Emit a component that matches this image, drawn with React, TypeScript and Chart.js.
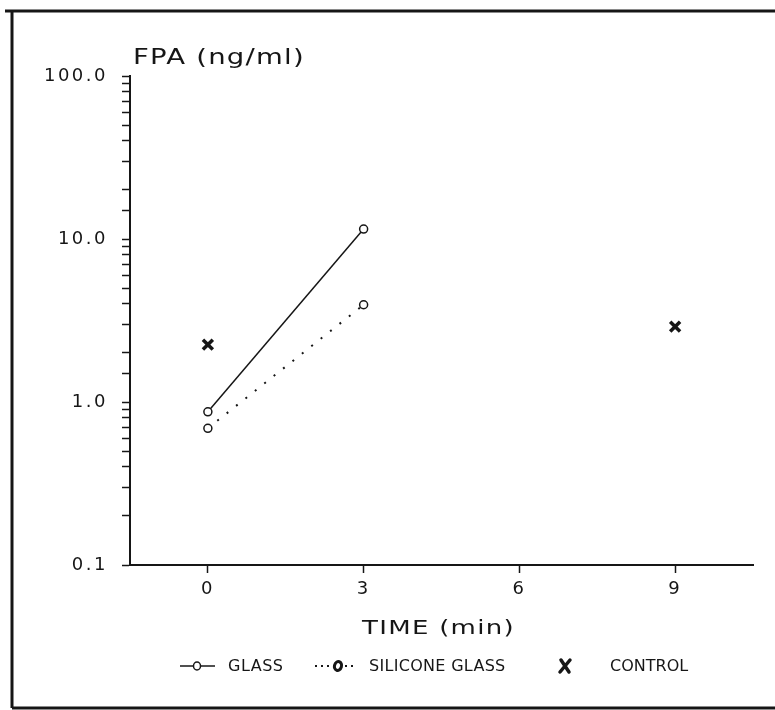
import React, { useEffect, useRef } from 'react';
import { Chart, registerables } from 'chart.js';

Chart.register(...registerables);

// ---- data ----
const timeTicks = [0, 3, 6, 9];
const glassTime = [0, 3];
const glassFPA = [0.87, 11.5];
const siliconeTime = [0, 3];
const siliconeFPA = [0.69, 3.95];
const controlTime = [0, 9];
const controlFPA = [2.25, 2.9];
const yMajorValues = [0.1, 1, 10, 100];
const yMajorLabels = ['0.1', '1.0', '10.0', '100.0'];
const seriesLabels = ['GLASS', 'SILICONE GLASS', 'CONTROL'];
const yTitle = 'FPA (ng/ml)';
const xTitle = 'TIME (min)';

const FONT = '"DejaVu Sans", sans-serif';
const INK = '#161616';

const toPoints = (xs: number[], ys: number[]) => xs.map((x, i) => ({ x, y: ys[i] }));

function drawStretched(
  ctx: CanvasRenderingContext2D,
  text: string,
  x: number,
  y: number,
  align: CanvasTextAlign,
  sx: number,
  spacing: string,
  font: string
) {
  ctx.save();
  ctx.translate(x, y);
  ctx.scale(sx, 1);
  ctx.font = font;
  (ctx as any).letterSpacing = spacing;
  ctx.textAlign = align;
  ctx.textBaseline = 'middle';
  ctx.fillStyle = INK;
  ctx.fillText(text, 0, 0);
  ctx.restore();
}

const decorPlugin = {
  id: 'decor',
  beforeDraw(chart: any) {
    (chart.ctx as any).letterSpacing = '2.5px';
  },
  afterDraw(chart: any) {
    const ctx = chart.ctx as CanvasRenderingContext2D;
    const area = chart.chartArea;
    ctx.save();
    // frame
    ctx.strokeStyle = INK;
    ctx.lineWidth = 3;
    ctx.beginPath();
    ctx.moveTo(5, 11);
    ctx.lineTo(775, 11);
    ctx.moveTo(12, 11);
    ctx.lineTo(12, 708);
    ctx.moveTo(12, 708);
    ctx.lineTo(775, 708);
    ctx.stroke();

    // titles
    drawStretched(ctx, yTitle, area.left + 3, 58, 'left', 1.25, '1px', `22px ${FONT}`);
    drawStretched(ctx, xTitle, (area.left + area.right) / 2 - 3, 629, 'center', 1.3, '1px', `20px ${FONT}`);

    // legend
    const ly = 666;
    const ds = chart.data.datasets;
    const lf = `16px ${FONT}`;
    // glass
    ctx.setLineDash([]);
    ctx.strokeStyle = ds[0].borderColor;
    ctx.lineWidth = 1.5;
    ctx.beginPath();
    ctx.moveTo(180, ly);
    ctx.lineTo(215, ly);
    ctx.stroke();
    ctx.beginPath();
    ctx.ellipse(197, ly, 3.5, 4, 0, 0, Math.PI * 2);
    ctx.fillStyle = '#fff';
    ctx.fill();
    ctx.stroke();
    drawStretched(ctx, ds[0].label, 228, ly + 1, 'left', 1, '0.5px', lf);
    // silicone
    ctx.strokeStyle = ds[1].borderColor;
    ctx.setLineDash([2, 4]);
    ctx.lineWidth = 2;
    ctx.beginPath();
    ctx.moveTo(315, ly);
    ctx.lineTo(357, ly);
    ctx.stroke();
    ctx.setLineDash([]);
    ctx.beginPath();
    ctx.ellipse(338, ly, 3.5, 4.5, 0.3, 0, Math.PI * 2);
    ctx.fillStyle = '#fff';
    ctx.fill();
    ctx.lineWidth = 3;
    ctx.stroke();
    drawStretched(ctx, ds[1].label, 369, ly + 1, 'left', 1, '0.3px', lf);
    // control
    ctx.strokeStyle = ds[2].pointBorderColor;
    ctx.lineWidth = 3.5;
    ctx.lineCap = 'round';
    ctx.beginPath();
    ctx.moveTo(561, ly - 6);
    ctx.lineTo(569, ly + 6);
    ctx.moveTo(570, ly - 6);
    ctx.lineTo(560, ly + 6);
    ctx.stroke();
    drawStretched(ctx, ds[2].label, 610, ly + 1, 'left', 1, '0px', lf);
    ctx.restore();
  },
};

export default function App() {
  const ref = useRef<HTMLCanvasElement | null>(null);

  useEffect(() => {
    document.body.style.margin = '0';
    if (!ref.current) return;
    const chart = new Chart(ref.current, {
      type: 'scatter',
      data: {
        datasets: [
          {
            label: seriesLabels[0],
            data: toPoints(glassTime, glassFPA),
            showLine: true,
            borderColor: INK,
            borderWidth: 1.5,
            backgroundColor: '#fff',
            pointStyle: 'circle',
            pointRadius: 4,
            pointBorderWidth: 1.5,
            pointBackgroundColor: '#fff',
            pointBorderColor: INK,
          },
          {
            label: seriesLabels[1],
            data: toPoints(siliconeTime, siliconeFPA),
            showLine: true,
            borderColor: INK,
            borderWidth: 2,
            borderDash: [2, 10],
            backgroundColor: '#fff',
            pointStyle: 'circle',
            pointRadius: 4,
            pointBorderWidth: 1.5,
            pointBackgroundColor: '#fff',
            pointBorderColor: INK,
          },
          {
            label: seriesLabels[2],
            data: toPoints(controlTime, controlFPA),
            showLine: false,
            borderColor: INK,
            backgroundColor: INK,
            pointStyle: 'crossRot',
            pointRadius: 7,
            pointBorderWidth: 3.5,
            pointBorderColor: INK,
          },
        ],
      },
      options: {
        responsive: false,
        animation: false,
        layout: { padding: { top: 76, right: 22, left: 0, bottom: 0 } },
        plugins: {
          legend: { display: false },
          title: { display: false },
          tooltip: { enabled: false },
        },
        scales: {
          x: {
            type: 'linear',
            min: -1.5,
            max: 10.5,
            afterBuildTicks: (scale: any) => {
              scale.ticks = timeTicks.map((v) => ({ value: v }));
            },
            afterFit: (scale: any) => {
              scale.height = 145;
            },
            grid: {
              drawOnChartArea: false,
              drawTicks: true,
              tickLength: 8,
              tickColor: INK,
              tickWidth: 1.5,
            },
            border: { display: true, color: INK, width: 2 },
            ticks: {
              color: INK,
              font: { family: FONT, size: 18 },
              padding: 6,
              maxRotation: 0,
              autoSkip: false,
              callback: (v: any) => String(v),
            },
          },
          y: {
            type: 'logarithmic',
            min: 0.1,
            max: 100,
            afterFit: (scale: any) => {
              scale.width = 130;
            },
            grid: {
              drawOnChartArea: false,
              drawTicks: true,
              tickLength: 8,
              tickColor: INK,
              tickWidth: 1.5,
            },
            border: { display: true, color: INK, width: 2 },
            ticks: {
              color: INK,
              font: { family: FONT, size: 18 },
              padding: 14,
              autoSkip: false,
              callback: (v: any) => {
                const i = yMajorValues.findIndex((m) => Math.abs(m - Number(v)) < 1e-9);
                return i >= 0 ? yMajorLabels[i] : '';
              },
            },
          },
        },
      },
      plugins: [decorPlugin],
    } as any);
    return () => chart.destroy();
  }, []);

  return (
    <div style={{ width: 775, height: 710, background: '#fff' }}>
      <canvas ref={ref} width={775} height={710} style={{ display: 'block' }} />
    </div>
  );
}
